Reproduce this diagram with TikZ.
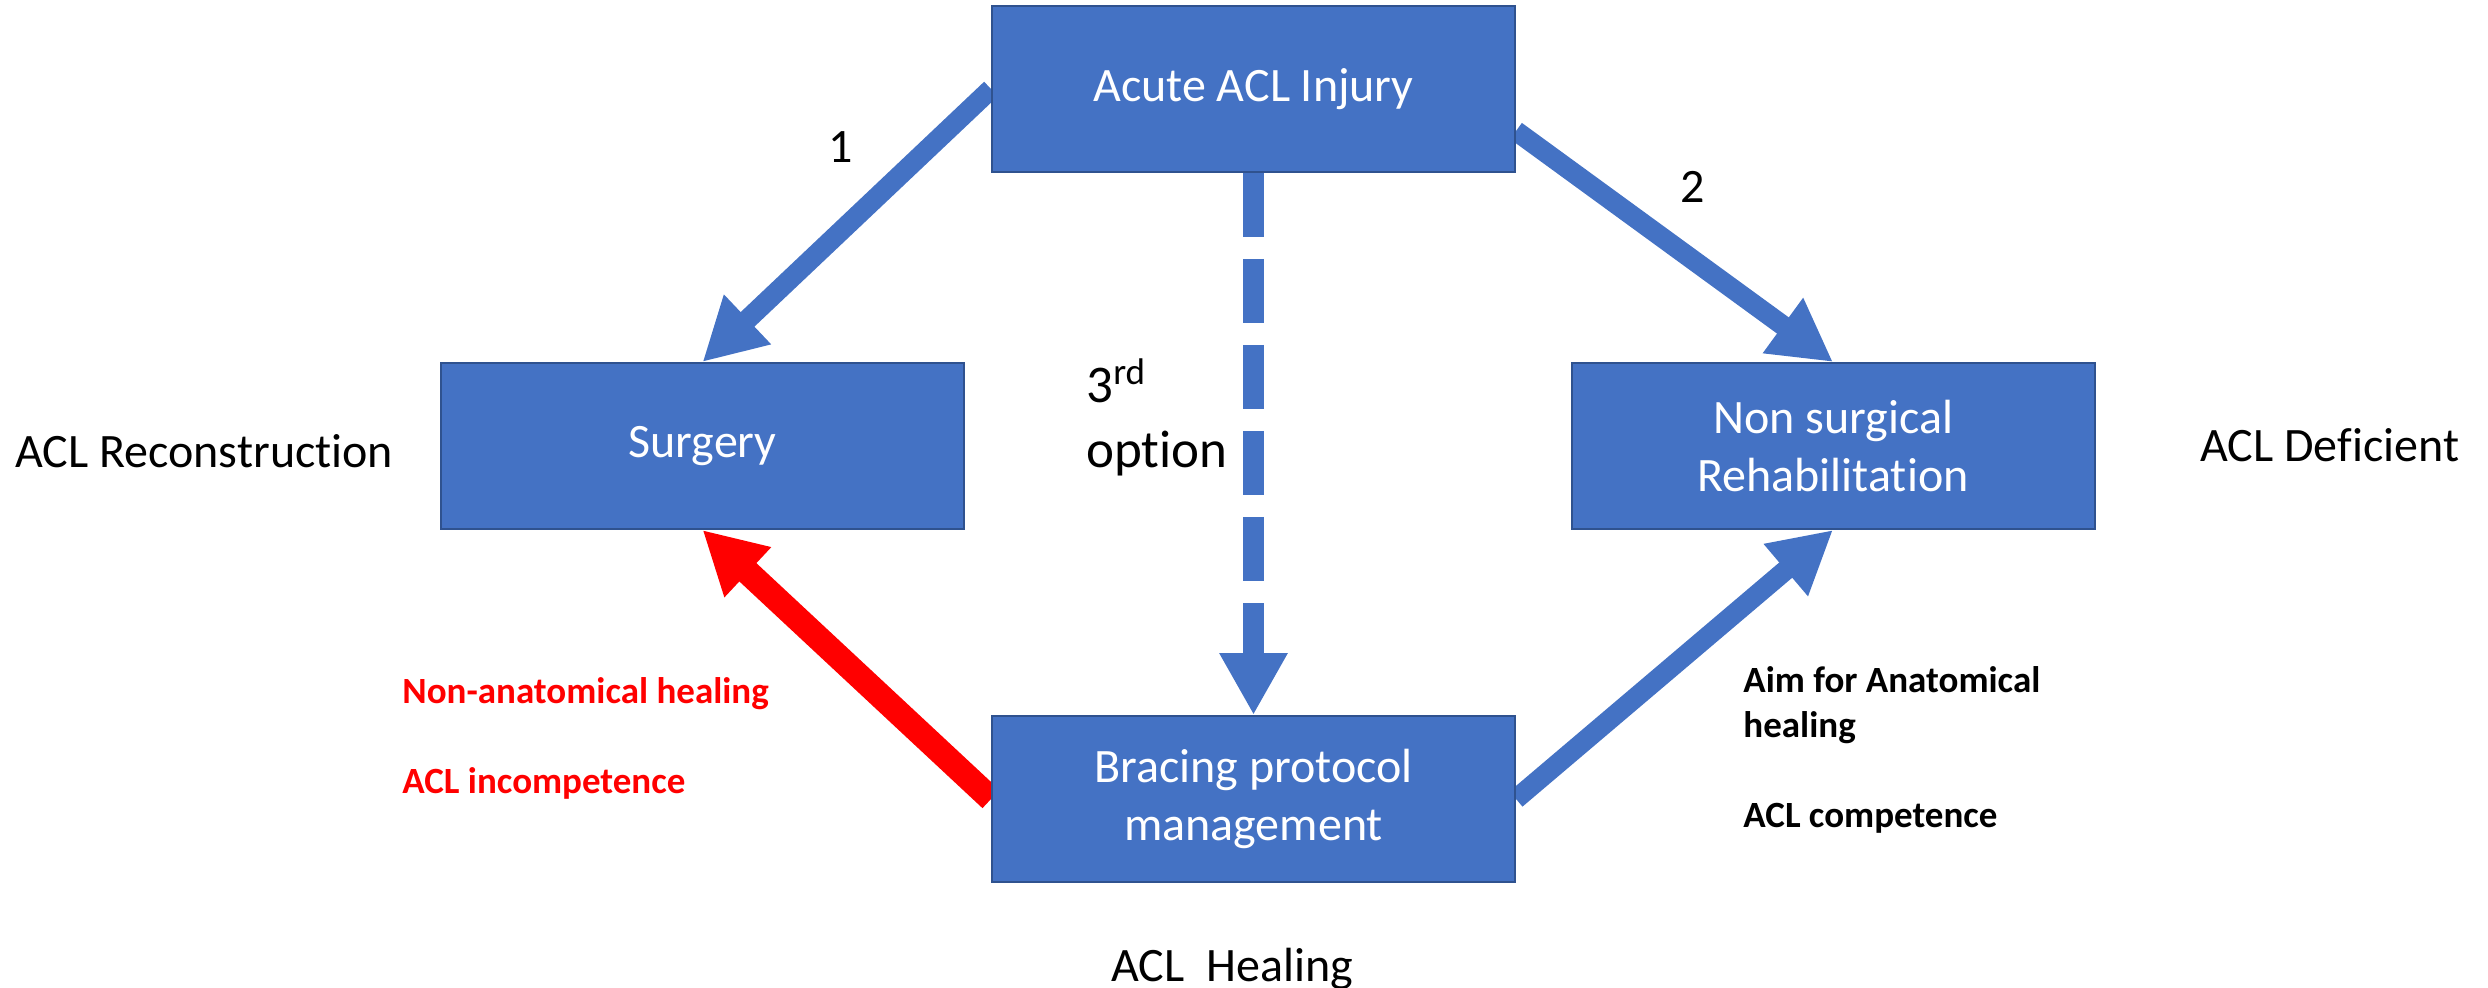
\documentclass[tikz,border=0pt]{standalone}
\usepackage{fontspec}
\setmainfont{Carlito}[Ligatures={NoCommon}]
\usetikzlibrary{arrows.meta,calc}
\definecolor{boxblue}{HTML}{4472C4}
\definecolor{boxedge}{HTML}{2F528F}
\pgfdeclarelayer{background}
\pgfsetlayers{background,main}
\begin{document}
\begin{tikzpicture}[x=0.5pt,y=-0.5pt,
  box/.style={rectangle, fill=boxblue, draw=boxedge, line width=1pt,
    minimum width=261.5pt, minimum height=83pt, inner sep=0pt,
    text=white, align=center, font=\fontsize{24}{29}\selectfont},
  lbl/.style={font=\fontsize{24}{29}\selectfont, inner sep=0pt, anchor=base west},
  biglbl/.style={font=\fontsize{26.5}{32}\selectfont, inner sep=0pt, anchor=base west},
  note/.style={font=\bfseries\fontsize{18.5}{22.5}\selectfont, inner sep=0pt, anchor=base west},
  conn/.style={draw=boxblue, line width=10pt, -{Triangle[width=32pt,length=31pt]}},
]
\useasboundingbox (0,0) rectangle (2488,988);

% boxes
\node[box] (top) at (1253.5,89) {Acute ACL Injury};
\node[box] (surg) at (702.5,446) {Surgery};
\node[box] (nonsurg) at (1833,446) {Non surgical\\Rehabilitation};
\node[box] (brace) at (1253.5,799) {Bracing protocol\\management};

% side labels
\node[lbl] (recon) at (15,468) {ACL Reconstruction};
\node[lbl] (defic) at (2200,462) {ACL Deficient};
\node[lbl] (heal) at (1111,981) {ACL~~Healing};

% arrow labels
\node[lbl, anchor=base] (one) at (841,163) {1};
\node[lbl, anchor=base] (two) at (1693,203) {2};
\node[biglbl] (third) at (1086,403) {3\textsuperscript{rd}};
\node[biglbl] (option) at (1086,468) {option};

% notes
\node[note, text=red] (nonanat) at (402,703) {Non-anatomical healing};
\node[note, text=red] (incomp) at (402,793) {ACL incompetence};
\node[note] (aim) at (1743,692) {Aim for Anatomical};
\node[note] (aimheal) at (1743,737) {healing};
\node[note] (comp) at (1743,827) {ACL competence};

% connectors
\begin{pgfonlayer}{background}
\draw[conn] (top.west) -- (surg.north);
\draw[conn] ($(top.east)+(0,42)$) -- (nonsurg.north);
\draw[conn, line width=10.5pt, dash pattern=on 32pt off 11pt] (top.south) -- (brace.north);
\draw[conn, draw=red, line width=12.5pt] (brace.west) -- (surg.south);
\draw[conn] (brace.east) -- (nonsurg.south);
\end{pgfonlayer}
\end{tikzpicture}
\end{document}
